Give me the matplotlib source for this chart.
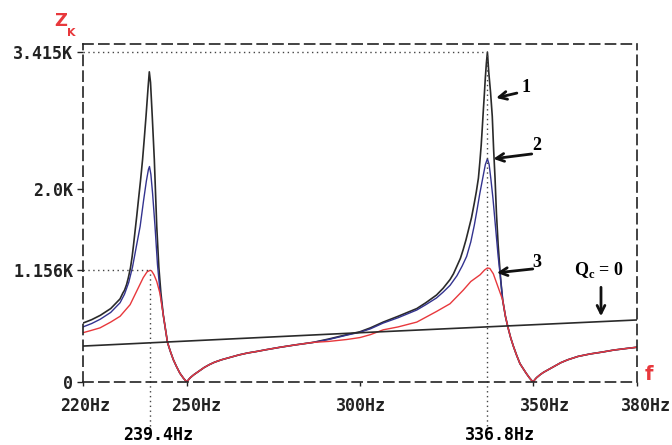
import numpy as np
import matplotlib
matplotlib.use("Agg")
import matplotlib.pyplot as plt
import matplotlib.transforms as mtransforms

# ---- data (f in Hz, Z in kOhm) ----
# part shared by all three curves, series resonance near 250 Hz
f_dip1 = [243.2, 244.4, 245.2, 246.1, 247.0, 248.0, 249.0, 249.6, 250.0, 250.5, 251.0,
          252.0, 253.0, 254.0, 255.0, 256.5, 258.0, 260.0, 262.5, 265.0, 267.5, 270.0,
          273.0, 277.0, 281.5, 286.5]
z_dip1 = [0.69, 0.41, 0.32, 0.23, 0.16, 0.09, 0.04, 0.015, 0.0, 0.025, 0.045,
          0.075, 0.10, 0.125, 0.15, 0.18, 0.205, 0.23, 0.255, 0.28, 0.30, 0.315,
          0.335, 0.36, 0.385, 0.41]
# part shared by all three curves, series resonance near 350 Hz
f_dip2 = [340.6, 341.2, 342.0, 342.7, 343.5, 344.3, 345.2, 346.2, 347.1, 348.0, 349.0,
          349.6, 350.0, 350.5, 351.0, 352.0, 353.0, 354.0, 355.0, 356.5, 358.0, 360.0,
          363.0, 366.4, 370.0, 373.2, 376.5, 380.0]
z_dip2 = [1.07, 0.85, 0.68, 0.57, 0.46, 0.37, 0.28, 0.19, 0.14, 0.09, 0.04,
          0.015, 0.0, 0.025, 0.045, 0.075, 0.10, 0.12, 0.14, 0.17, 0.20, 0.23,
          0.265, 0.29, 0.31, 0.33, 0.345, 0.36]

# curve 1 (black)
f1_a = [220.0, 222.5, 225.0, 228.0, 230.7, 231.5, 232.0, 232.6, 233.1, 233.7, 234.2,
        234.6, 235.0, 235.5, 236.0, 236.6, 237.2, 237.7, 238.2, 238.5, 238.8, 239.15,
        239.5, 240.0, 240.6, 241.3, 241.9, 242.5]
z1_a = [0.61, 0.645, 0.69, 0.76, 0.86, 0.92, 0.95, 1.01, 1.08, 1.18, 1.30,
        1.42, 1.55, 1.71, 1.88, 2.08, 2.30, 2.52, 2.75, 2.90, 3.05, 3.21,
        3.10, 2.75, 2.30, 1.61, 1.19, 0.92]
f1_b = [291.0, 296.2, 300.0, 303.0, 306.7, 311.0, 316.4, 319.0, 322.1, 324.0, 326.0,
        327.0, 328.0, 329.0, 329.8, 330.6, 331.3, 332.2, 333.0, 333.6, 334.2, 334.6,
        335.0, 335.3, 335.6, 335.9, 336.2, 336.5, 336.8, 337.2, 337.7, 338.2, 338.6,
        339.0, 339.4, 339.9]
z1_b = [0.445, 0.49, 0.52, 0.56, 0.62, 0.68, 0.76, 0.82, 0.90, 0.97, 1.06,
        1.12, 1.20, 1.28, 1.37, 1.47, 1.57, 1.70, 1.85, 1.97, 2.11, 2.27,
        2.45, 2.62, 2.80, 2.97, 3.15, 3.30, 3.415, 3.20, 3.00, 2.75, 2.40,
        2.11, 1.75, 1.42]

# curve 2 (blue)
f2_a = [220.0, 222.5, 225.0, 228.0, 230.7, 232.0, 233.2, 234.3, 235.5, 236.5, 237.5,
        238.3, 238.9, 239.2, 239.6, 240.1, 240.8, 241.5, 242.2]
z2_a = [0.57, 0.605, 0.65, 0.72, 0.82, 0.91, 1.03, 1.19, 1.42, 1.61, 1.88,
        2.08, 2.20, 2.23, 2.15, 1.95, 1.61, 1.22, 0.95]
f2_b = [291.0, 296.2, 300.0, 303.0, 306.7, 311.0, 316.4, 319.0, 322.1, 324.0, 326.0,
        328.0, 329.5, 330.8, 332.0, 333.0, 333.7, 334.6, 335.5, 336.2, 336.8, 337.3,
        337.8, 338.4, 338.9, 339.4, 339.9]
z2_b = [0.44, 0.485, 0.515, 0.55, 0.61, 0.665, 0.745, 0.80, 0.87, 0.93, 1.00,
        1.10, 1.20, 1.30, 1.45, 1.62, 1.76, 1.95, 2.12, 2.25, 2.31, 2.25,
        2.10, 1.90, 1.70, 1.50, 1.30]

# curve 3 (red)
f3_a = [220.0, 222.5, 224.9, 228.0, 230.7, 233.6, 235.5, 237.4, 238.5, 239.4, 239.8,
        240.5, 241.3, 242.2]
z3_a = [0.51, 0.535, 0.56, 0.62, 0.68, 0.80, 0.94, 1.08, 1.14, 1.156, 1.15,
        1.11, 1.04, 0.92]
f3_b = [291.0, 296.2, 300.0, 303.0, 306.7, 311.0, 316.4, 319.0, 322.1, 326.0, 329.8,
        332.0, 334.7, 336.0, 336.8, 337.5, 338.5, 339.5, 340.4]
z3_b = [0.42, 0.44, 0.46, 0.49, 0.54, 0.57, 0.62, 0.67, 0.73, 0.81, 0.95,
        1.04, 1.11, 1.16, 1.18, 1.175, 1.12, 1.02, 0.93]

# Qc = 0 line
f_q0 = [220.0, 300.0, 380.0]
z_q0 = [0.372, 0.51, 0.642]

y_ticks = [0, 1.156, 2.0, 3.415]
y_labels = ["0", "1.156K", "2.0K", "3.415K"]
x_ticks = [220, 250, 300, 350, 380]
x_labels = ["220Hz", "250Hz", "300Hz", "350Hz", "380Hz"]
f_res = [239.4, 336.8]

# ---- figure ----
fig = plt.figure(figsize=(6.72, 4.45), dpi=100)
W, H = 672, 445
ax = fig.add_axes([83 / W, 63 / H, 554 / W, 338 / H])
ax.set_xlim(220, 380)
ax.set_ylim(0, 3.498)

c_black = "#2a2a2a"
c_blue = "#33338f"
c_red = "#e8383c"

ax.plot(np.concatenate([f1_a, f_dip1, f1_b, f_dip2]),
        np.concatenate([z1_a, z_dip1, z1_b, z_dip2]), color=c_black, lw=1.2)
ax.plot(np.concatenate([f2_a, f_dip1, f2_b, f_dip2]),
        np.concatenate([z2_a, z_dip1, z2_b, z_dip2]), color=c_blue, lw=1.0)
ax.plot(np.concatenate([f3_a, f_dip1, f3_b, f_dip2[1:]]),
        np.concatenate([z3_a, z_dip1, z3_b, z_dip2[1:]]), color=c_red, lw=1.0)
ax.plot(f_q0, z_q0, color=c_black, lw=1.2)

# dotted marker lines
dot = dict(color="#444444", lw=1.0, linestyle=(0, (1, 2.5)))
ylim_top = ax.get_ylim()[1]
ax.plot([220, f_res[0]], [y_ticks[1], y_ticks[1]], **dot)
ax.plot([220, f_res[1]], [y_ticks[3], y_ticks[3]], **dot)
ax.axvline(f_res[0], ymin=-0.13, ymax=y_ticks[1] / ylim_top, clip_on=False, **dot)
ax.axvline(f_res[1], ymin=-0.13, ymax=y_ticks[3] / ylim_top, clip_on=False, **dot)

# dashed frame
for sp in ax.spines.values():
    sp.set_linestyle((0, (6, 3.5)))
    sp.set_linewidth(1.2)
    sp.set_color("#222222")

tick_font = dict(family="DejaVu Sans Mono", weight="bold", size=12)
ax.set_yticks(y_ticks)
ax.set_yticklabels(y_labels, fontdict=tick_font)
ax.set_xticks(x_ticks)
ax.set_xticklabels(x_labels, fontdict=tick_font)
ax.tick_params(axis="y", direction="out", length=4, width=1, pad=3, colors="#222222")
ax.tick_params(axis="x", direction="out", length=3, width=1, pad=8, colors="#222222")

# PSpice-like label shifts (pixels)
x_shift = [2, 9, 1, 12, 9]
for lab, dx in zip(ax.get_xticklabels(), x_shift):
    lab.set_transform(lab.get_transform() +
                      mtransforms.ScaledTranslation(dx / 100, 0, fig.dpi_scale_trans))

for fr, dx in zip(f_res, [8, 13]):
    ax.annotate(f"{fr}Hz", xy=(fr, 0), xytext=(dx, -53), textcoords="offset pixels",
                ha="center", va="center", annotation_clip=False, **tick_font)

# axis names
fig.text(61 / W, 1 - 21 / H, "Z", color=c_red, fontsize=13, fontweight="bold",
         ha="center", va="center")
fig.text(71 / W, 1 - 33 / H, "K", color=c_red, fontsize=8, fontweight="bold",
         ha="center", va="center")
fig.text(649 / W, 1 - 374 / H, "f", color=c_red, fontsize=14, fontweight="bold",
         ha="center", va="center")

# curve labels and arrows
serif = dict(family="Liberation Serif", weight="bold", size=13)
arrow = dict(arrowstyle="->", lw=2.0, color="#111111", mutation_scale=14,
             shrinkA=0, shrinkB=0)
ax.annotate("", xy=(339.3, 2.94), xytext=(345.3, 2.99), arrowprops=arrow, annotation_clip=False)
ax.text(347.9, 3.05, "1", ha="center", va="center", **serif)
ax.annotate("", xy=(338.5, 2.31), xytext=(349.6, 2.36), arrowprops=arrow, annotation_clip=False)
ax.text(351.1, 2.45, "2", ha="center", va="center", **serif)
ax.annotate("", xy=(339.5, 1.13), xytext=(349.9, 1.17), arrowprops=arrow, annotation_clip=False)
ax.text(351.1, 1.24, "3", ha="center", va="center", **serif)
ax.annotate("", xy=(369.6, 0.68), xytext=(369.6, 0.98), arrowprops=arrow, annotation_clip=False)
ax.text(369.0, 1.16, r"Q$_\mathregular{c}$ = 0", ha="center", va="center", **serif)

fig.savefig("out.png", dpi=100)
